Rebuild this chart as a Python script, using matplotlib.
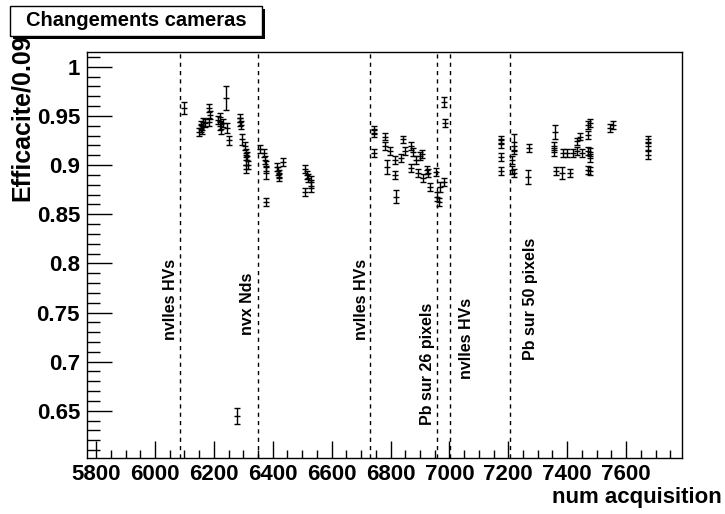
import matplotlib
matplotlib.use('Agg')
import matplotlib.pyplot as plt
from matplotlib.patches import Rectangle
from matplotlib.ticker import MultipleLocator

plt.rcParams['font.family'] = ['Liberation Sans', 'DejaVu Sans']
plt.rcParams['font.weight'] = 'bold'

# efficacite per acquisition
acq = [6097, 6150, 6155, 6157, 6160, 6162, 6170, 6185, 6187, 6185,
       6215, 6220, 6222, 6225, 6230, 6240, 6245, 6250, 6278, 6289,
       6290, 6292, 6295, 6305, 6308, 6310, 6312, 6315, 6308, 6357,
       6370, 6372, 6376, 6378, 6377, 6415, 6418, 6420, 6422, 6435,
       6510, 6515, 6518, 6530, 6510, 6530,
       6744, 6744, 6744, 6782, 6782, 6787, 6799, 6816, 6816, 6818,
       6835, 6843, 6850, 6869, 6869, 6877, 6887, 6894, 6901, 6906,
       6911, 6923, 6928, 6935, 6955, 6959, 6963, 6968, 6980, 6983, 6985,
       7175, 7175, 7175, 7175, 7218, 7218, 7212, 7212, 7218, 7271,
       7268, 7359, 7356, 7356, 7362, 7381, 7387, 7398, 7410, 7421,
       7433, 7435, 7444, 7450, 7472, 7472, 7472, 7472, 7476, 7478,
       7478, 7478, 7546, 7554, 7674, 7674, 7674]
eff = [0.958, 0.934, 0.938, 0.941, 0.936, 0.944, 0.943, 0.958, 0.951, 0.944,
       0.946, 0.940, 0.949, 0.937, 0.943, 0.968, 0.938, 0.925, 0.645, 0.948,
       0.944, 0.941, 0.926, 0.919, 0.912, 0.905, 0.909, 0.900, 0.896, 0.916,
       0.912, 0.905, 0.899, 0.892, 0.862, 0.898, 0.894, 0.891, 0.888, 0.903,
       0.896, 0.890, 0.887, 0.883, 0.873, 0.879,
       0.936, 0.933, 0.912, 0.929, 0.919, 0.898, 0.914, 0.905, 0.890, 0.868,
       0.907, 0.926, 0.914, 0.919, 0.897, 0.913, 0.905, 0.892, 0.909, 0.911,
       0.887, 0.895, 0.892, 0.878, 0.893, 0.868, 0.862, 0.878, 0.883, 0.964, 0.943,
       0.926, 0.921, 0.908, 0.894, 0.923, 0.915, 0.905, 0.895, 0.892, 0.917,
       0.888, 0.934, 0.919, 0.913, 0.894, 0.892, 0.912, 0.912, 0.892, 0.912,
       0.914, 0.924, 0.929, 0.912, 0.941, 0.931, 0.914, 0.895, 0.943, 0.913,
       0.907, 0.894, 0.938, 0.941, 0.926, 0.919, 0.910]
err = [0.006, 0.004, 0.004, 0.004, 0.004, 0.004, 0.004, 0.004, 0.004, 0.004,
       0.004, 0.004, 0.004, 0.005, 0.004, 0.012, 0.005, 0.005, 0.008, 0.004,
       0.004, 0.004, 0.006, 0.004, 0.004, 0.005, 0.004, 0.004, 0.004, 0.004,
       0.004, 0.004, 0.005, 0.006, 0.004, 0.004, 0.004, 0.004, 0.004, 0.004,
       0.004, 0.004, 0.004, 0.006, 0.004, 0.006,
       0.004, 0.004, 0.004, 0.004, 0.004, 0.007, 0.004, 0.004, 0.004, 0.007,
       0.004, 0.004, 0.004, 0.004, 0.004, 0.004, 0.004, 0.004, 0.004, 0.004,
       0.004, 0.004, 0.004, 0.004, 0.004, 0.005, 0.004, 0.005, 0.004, 0.005, 0.004,
       0.004, 0.004, 0.004, 0.004, 0.009, 0.004, 0.004, 0.004, 0.004, 0.004,
       0.007, 0.007, 0.004, 0.004, 0.004, 0.006, 0.004, 0.004, 0.004, 0.004,
       0.004, 0.004, 0.004, 0.004, 0.004, 0.004, 0.004, 0.004, 0.004, 0.004,
       0.004, 0.004, 0.004, 0.004, 0.004, 0.004, 0.004]

# camera changes
change_x = [6085, 6350, 6731, 6959, 7003, 7207]
change_txt = ['nvlles HVs', 'nvx Nds', 'nvlles HVs', 'Pb sur 26 pixels', 'nvlles HVs', 'Pb sur 50 pixels']
txt_x = [6051, 6313, 6703, 6924, 7057, 7274]
txt_y = [0.722, 0.727, 0.722, 0.636, 0.682, 0.702]

fig = plt.figure(figsize=(7.25, 5.14), dpi=100)
ax = fig.add_axes([87/725., 1-458/514., (682-87)/725., (458-52)/514.])

ax.errorbar(acq, eff, yerr=err, fmt='_', color='black', ms=4, mew=1,
            elinewidth=1, capsize=2, capthick=1, ls='none')

for xc in change_x:
    ax.axvline(xc, color='black', lw=1, ls=(0, (3, 3)))
for t, xt, yt in zip(change_txt, txt_x, txt_y):
    ax.text(xt, yt, t, rotation=90, ha='center', va='bottom', fontsize=11.5, fontweight='bold')

ax.set_xlim(5769, 7790)
ax.set_ylim(0.602, 1.015)
ax.set_xticks([5800, 6000, 6200, 6400, 6600, 6800, 7000, 7200, 7400, 7600])
ax.xaxis.set_minor_locator(MultipleLocator(50))
ax.yaxis.set_major_locator(MultipleLocator(0.05))
ax.yaxis.set_minor_locator(MultipleLocator(0.01))
ax.yaxis.set_major_formatter(plt.FuncFormatter(lambda v, p: ('%g' % round(v, 2))))
ax.tick_params(axis='x', which='major', direction='in', length=12, width=1, labelsize=16, pad=4)
ax.tick_params(axis='x', which='minor', direction='in', length=6, width=1)
ax.tick_params(axis='y', which='major', direction='in', length=18, width=1, labelsize=16, pad=5)
ax.tick_params(axis='y', which='minor', direction='in', length=9, width=1)
for lab in ax.get_xticklabels() + ax.get_yticklabels():
    lab.set_fontweight('bold')
for s in ax.spines.values():
    s.set_linewidth(1)

fig.text(722/725., 1-497/514., 'num acquisition', ha='right', va='center', fontsize=16, fontweight='bold')
fig.text(22/725., 1-34/514., 'Efficacite/0.09', rotation=90, ha='center', va='top', fontsize=18, fontweight='bold')

# title box with shadow, root style
fig.patches.append(Rectangle((13/725., 1-39/514.), 252/725., 30/514., transform=fig.transFigure,
                             fc='black', ec='black', lw=0))
fig.patches.append(Rectangle((10/725., 1-36/514.), 252/725., 30/514., transform=fig.transFigure,
                             fc='white', ec='black', lw=1))
fig.text(136/725., 1-21/514., 'Changements cameras', ha='center', va='center', fontsize=14.5, fontweight='bold')

plt.savefig('out.png', dpi=100)
